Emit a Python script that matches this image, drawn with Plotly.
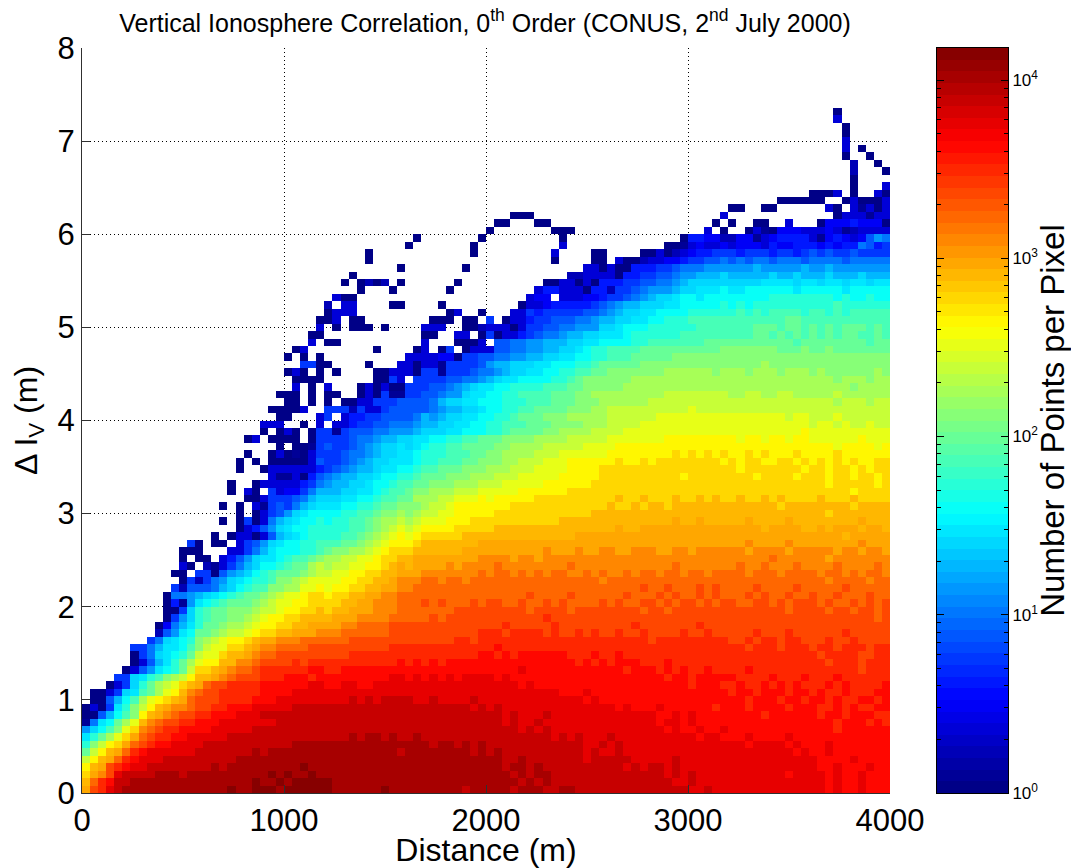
import numpy as np
import plotly.graph_objects as go

# Histogram: one string per row (bottom row first), one character per cell.
# '.' = empty cell, otherwise digit/letter = log10(count) in steps of 0.125.
N_COLS = 100
N_ROWS = 100
DX = 40
DY = 0.08
LOG_STEP = 0.125
LOG_MAX = 4.18
ALPHABET = "0123456789abcdefghijklmnopqrstuvwxyz"

LOG_COUNT_ROWS = [
"orsuvwwwww wwwwwwwwxw wxxxwxxxxx xwwwwwwxww wwwwwwwvww wwwvwwwvvw wvvvvvvvvv vvvvvuuvuu uuuuuuuuuu uututtuttt",
"nqstvvwwww wwwwwwwwww wxwwxwxxxx xwwwwwwwww wwwwwwwwww wwwwvwvwvv vvvvvvvvvv vvvuuvuuuu uuuuuuuuuu uututtuttt",
"mopruvvvvw wwvwwwwwww wwwxwxwwxw wwwwwwwwww wwwwwwwwww wwwvwvwwvv vvvvvvvvvv vvuvuvuuuu uuuuuuutuu uututtuttt",
"lnorstuuvv vvvvvvwvww wwwwwwwxww wwwwwwwwww wwwwwwwwww wwvwwvwvvv vvvvvvvuvu vvuvuuuuuu uuuuuuuuuu uttutttutt",
"jlnoqstuuu vvvvvvvvvw wwwwwwwwww wwwwwwwwww wwwwwwwwww wwvvwvvvvv vvuvvvvvuu uuuvuuuuuu uuuuuuuuuu uttttutttt",
"gjlnoqstuu uuuuvvvvvv vwvwwwwwww wwwwwwwwwv wwwwwwwwvw vwvvvvvvvv vvuvuuvuuu uuuuuuuuuu uuuuuuuutu ttuttttttt",
"ehjlmoqrst tuuuuvvvvv vvvvvvwwww wwwwwwwwww wwwvwwvwvw vvvvvvvvvv vvuuvuvuuu uuuuuuuuuu uutuuuutut ttuttttttt",
"cegikmoqrs sttuuuuuvv vvvvvvvvvv vvvwvwwvwv vwvvvvvvvv vvvvvvvvuv uvuuuvuuuu uuuuuutuut ttuttttutt tttttttttt",
"9bdfhkmpqr ssttttuuuu uvvvvvvvvv vvvvvvvvvv vvvvvvvvvv vvvvuvuvuu uuuuuuuuuu uututtuttu tttttttttt tttstttttt",
"18cdgiknpq rrsstttuuu uuuuvvvvvv vvvvvvvvvv vvvvvvvvvv vvuvuuvuuu uuuuuuuuuu utuututttt tttttttttt tttstttsts",
"007adfhlno pqrrsstttu uuvvvvvvvv vvvvvvvvvv vvvvvvvvvv vvuvuuuvuu uuuuuuuuuu uttututttt ttttsttttt tsttstttss",
"0306cehjln oppqrrsstt tuuuuuvvvv vvvvvvvvvv vvvvvvvvuv uvuuuuuuuu uuuuuututt tuttttttst ttsttttstt tsststsstt",
".007adfikl mnoqrrrsss stttuuuuuu uuuvuvuvvv vuuvuuuuvu uuuuuuuuuu uututttttt tttttttttt ttstttstts ttstssttst",
".0036bcfgi klnpqrrsss ssttttuuuu uuuuuuuuuu uuuuuuuuuu uuuuuuuuut ttuttttttt tttttttttt sttstttstt stsstssstt",
"...036begi jkmnoqrrss ssttttttuu ttuuttuuuu uuuuuuuuuu uuuututttt tttttttttt tttttsttts stsstststs sststsssst",
"....66bcef hijlnnopqr rrssstttst ttttttttuu tutututuuu ututtttttt tttttttttt ttsttstttt tsssstssst ssstssssss",
".....0379c degjmmnopq qrsssssstt sstttttttt tttttttttt ttttuttttt tttttttstt tststsstss sstsssssss ssssssrsss",
"......037a cegikllnnp pqrrrrsrss ssssssssst stststtttt tttttttttt tstststtts sstsssssss ssssssssss ssrsssrsss",
"......068b cdegjkkmnn opqqrrrrrr rrrsssssss ssssssssst tststttttt ssstsstsss ssssssssss ssssssssss srssssrrss",
"......668a ccdfhjkkmm noppqqqqrr rrrrrrrrss ssssssssss stssssssss ssssssssss ssssssssss ssrsssrsss rssrsssrss",
"........68 bcdehijkll mnoopppqqq qqqrrrrrrr rrrrrrssrs ssssssssss ssssssssss rsssssssss rrsrssrssr rrsrrsrrrr",
".........2 79cdgghijj klmmnnooop ppqqqqqqrr rrrrrrrrrs ssrssssrsr rsrsrrsrrs rrrrsrrsrr rrrsrrrsrr rrrrsrrrrr",
".........0 48acegghii jkllmmnnoo ooppqqqqrr rrrrrrrrrr rrsrrrrrsr rrrrrrrrsr rrrrrrsrrr rrrrrrrrrr rrrrrrrrrr",
"069befgghh ijkllmmnnn noooppppqq qqqrqrrrrr rrrrrrrsrr rrrrrrrrrr rrrrrrrrrr rrrrrrrrrr rrrrrrrrqr",
"006befgghh hijjkllmmn mnnooopppq qqqqqqrrrr rrrrrqrrrr qrrrrrrrrq rrqrrrrrrr rrrrrrrqrr rrqrrqrrqr",
"0519cdefgg ghijkkllmm mmnnoopppq qqrqrqqqrq rrqqrqqrqr qqqqrqrqqr rqrqrrqrqr rqqrrqrqrr rqrqqrqrqr",
"0889abcdef gghijkklmm lmmnnooppq qqqqqqqqqq qqqqqrqqqq rqqqqqqrqq qrqrqqrqrq qqrqrqqrqq rqqrqqqrqq",
".627778abd effhhiikkl kllmmnnoop pqqqqqqqqq qqqqqqqqqq qqqqqqqqqr qqrqqqrqrq qqqrqqqqrq qqqqrqqqqq",
"..062689bc deefhhijkk kkllmmnnop ppqqpqqpqq qqqqqqqqqq qqqqpqqqqq qqqqqqqqqq qqqqqqqqqq qqpqqqqpqq",
".00.66079a bdefggghij jkkllmmnno oopppppppq pqqpqpqpqq ppqpqppqpq qpqqpqqpqq qqpqqqpqqq qpqqpqpqqp",
"..30.21368 abddefggij ijjkkllmno noooopoppp pqpppppppp qppppppppp pppqpppppp pqppqpppqp pppqppppqp",
"..0.00.357 9bccdeffgh iijjkklmmn noooooooop pppoppoppp pppppppppp pppppppppp pppppqpppp ppoppppppp",
"..000...33 68acdddeef ghhiijklmm mnnnnnnooo ooooooopoo opooppoopp pooppopppp ppoppppopp pppoppoppo",
"...60.00.3 679bcddeef ffgghijkll lmnnnnnnno oooooooooo oooooooooo oooooooooo oopoooopoo oooooopooo",
"......0.03 3037abcdee eeffghijkl klmmmmmnnn nnnnnnnnnn nooooooooo oooooooooo oooooooooo oooonooooo",
".........0 3579bcddee eeeffghijk jkllllmmmm mnnnnnnnnn nnnnnnonno oooooooooo oooonoooon nonooonoon",
".......0.0 6038abcdde deeffghiij ijkkklllmm mmmmmmmmmn nnnnnnnnnn nnnonnonnn nnonnnnonn nnnnnnonnn",
".........0 .03679bcdd ddeeffghhi hijjkkllll lmmmmmmmmm mmmnnnnnnn nnnnnnnnnn nnnnnnnnnn nnmnnnnnnn",
".......0.0 .316768abc ccddeefggh hhijjkllll lllmmmmmmm mmmmmnmmnm nnmnnnnnnn nnnnnnmnnn nnnnnmnnnn",
"00366678ab bbccddeffg giiijjkkkl klllllmmmm mmmmmmnmmn mmmnmmnmnm mnmmnmnmmm mnmmmnmmmm",
"........0. 30.634468a aabbccdeff ghhiiijjjk kkkkllllll mmmmmmmmmm mmmmmmmmmm mmmmmmmmmm mmmmmlmmmm",
"........0. .033333568 9aabbcddef fgghhhiiij jjkkkkklll lllmmmmmmm mmmmmmmmmm mmmmmmmmmm mmlmmmmmlm",
"...3113057 89aabbcdde efggghhhii ijjjkkkkkl llllmmmmmm mmmmlmmmmm mmmlmmmmlm mmlmmlmmlm",
".........0 ..03333335 6789aabccd deffggghhh iiijjjkkkk llllmmmmmm mmmmmmmmmm mlmmmmmmml mmlmmlmlmm",
".........0 .0.0000037 66789abbcc cdeefffggh hhiijjjkkk llllllmllm lmmmmmmmml mlmmllmmlm lmlmlmllmm",
"0..0301036 667889abbc cdeeefffgg hhiiiijjjk kkkkklllll lllmlmlmlm llmlmlllml lllmllllll",
"....0.0016 766789abbc bcdeeffggg ghhiiiijjj jjkkkkllll llllllllll llllllllll lllkllllkl",
"03.0000.06 6667889aab bccddeeffg gghhhhiiii jjjjjkkkkk kkllllllll lkllkllkll kkkkkklkkk",
"..0.030.06 6167778899 9abbbccddd eefgggghhi iiijjjjkkk kkkkkkkkkk kkkkkkkkkl kkkkkkkkkk",
"..333..0.3 .335667788 89aabbccdd eefffggghh hhiiijjjjk kkkkkkkkkk kkkkkkkkkk jkkjkjjkjj",
"....00...3 6.35566777 78a9abbccd deefggghhh iiiiijjjjj jkkkkkkkkk kkkkkkkjkk jjjkjjjjjj",
"...00003.. 6662633677 77789aabbc ddeeffgggg hhhiijjjjj jjjjjkjjjj jjjjjjjjjj jjjjjjjjjj",
".....00.0. 0.00336667 7778abbccd ddeeefffgg ghhhiiiiii jjjjjjjjjj jjjjjjjjjj jjjijjjijj",
"....000.0. 00..030611 6677899bcc ddeeffffgg ghhiiiiiii iijjjjjjjj iijjiijjii iiijiiiiii",
"......3.0. 3...030300 6667789abc cddeeeefff gghhhhhiii iiiiiiiiii iiiiiiiiii iiiiihiiii",
"......0000 ......0063 .666677889 abccddddee fghhhhhhii iiiiiiiiii iiiiiiiiii iiihiiihii",
".....030.0 .0....0033 3066166678 89abbccdde effgghhhhh hhiiiiiihi iihiiihiii hihhhhhhih",
".......660 0....0...3 3033166667 9aabbbccdd deefgggggh hhhhhhhhhh hhhhihhhhh hhhhhhhhhh",
".....0.0.0 .......... 3333440667 78899aabbc cddeefffgg ggghhhhhhh hhhhhhhhhh hhhhhhhhhh",
"......03.. ......0... .03.06.033 3778899aab bcdeeffffg gggggggggh hhhhhhgggh gghggggggg",
"........3. 00........ ..3...0003 .778899aaa bbccddddee fffffffggg ggggggggfg gggggggfgg",
"........00 .......... ..00..33.0 6033567889 aabbcccdee eeeeffffff fffggfgfgf gfgfggffgf",
".........3 .0.000.0.. ..333..002 3330366778 8999bbcddd eeeeeeffff fffgggfggf gfgfgggfgf",
".........0 03.00..... ...000.00. 6.03356677 7889aabbcc ddeeefffff fffffffggf ffffffffff",
"0333...... .....03..0 ...3365666 667789abbc cddddeeeee efefeffffe ffefefffff",
"2.33....00 ....0..... ....033455 5556789aab bbccddddde dedeeeeeee eeefeeeeee",
".300...... .......... .....344.3 3344566789 abbcddcddd dddddeeeee eeededdedd",
"....0...0. .....0.... ......3553 3305526678 999abbcccd ccddddddcd ddddcddddd",
"..0.0202.0 ......0... .......003 3030555667 7889abbbbb bbbbccccbc cbccbccbcc",
"...0...... .......... .......... 2233330556 677899aaab aaaaabaaba aabaaabaaa",
".........0 .......0.. .......... ..33030055 5667888999 999a99999a 99a9999999",
".....0.... .......... ........0. ...00.3002 3344566778 7878878887 8888788888",
".....0.... ........0. ........3. ...00....0 0302345566 6566656656 7676676666",
"0.......0. .........3 .......... ..00134334 3444354455 5454558756",
".0.......0 .........0 .......... ....055442 2441345555 3145434798",
"0.......00 0......... .......3.0 ..03104443 3343123333",
".00...00.. .......... ........0. 0..00..3.. .044454440",
"...000.... .......... .........3 .......... ...0333133",
"00..00.... ..30.31303",
"......0000 00..030003",
"0003.0..30",
".....0...3",
".....0....",
".....2...0",
".....2..0.",
"....0..0..",
"....3.0...",
"....3.....",
"....0.....",
"....0.....",
"...3......",
"...0......",
]

X_TICKS = [0, 1000, 2000, 3000, 4000]
Y_TICKS = [0, 1, 2, 3, 4, 5, 6, 7, 8]
CBAR_DECADES = [0, 1, 2, 3, 4]
CBAR_LABELS = ["10<sup>0</sup>", "10<sup>1</sup>", "10<sup>2</sup>", "10<sup>3</sup>", "10<sup>4</sup>"]
CBAR_MINOR = [d + np.log10(m) for d in range(5) for m in range(2, 10) if d + np.log10(m) < LOG_MAX]
N_COLOURS = 64


def decode(row):
    row = row.replace(" ", "").rjust(N_COLS, ".")[-N_COLS:]
    return [None if ch == "." else ALPHABET.index(ch) * LOG_STEP for ch in row]


z = [decode(r) for r in LOG_COUNT_ROWS]
z += [[None] * N_COLS for _ in range(N_ROWS - len(z))]


def jet(f):
    r = np.clip(min(4 * f - 1.5, -4 * f + 4.5), 0, 1)
    g = np.clip(min(4 * f - 0.5, -4 * f + 3.5), 0, 1)
    b = np.clip(min(4 * f + 0.5, -4 * f + 2.5), 0, 1)
    return f"rgb({int(r * 255)},{int(g * 255)},{int(b * 255)})"


scale = []
for i in range(N_COLOURS):
    col = jet((i + 0.5) / N_COLOURS)
    scale.append([i / N_COLOURS, col])
    scale.append([(i + 1) / N_COLOURS, col])

W, H = 1071, 868
FONT = "Liberation Sans"

fig = go.Figure()
fig.add_trace(go.Heatmap(
    z=z, x0=DX / 2, dx=DX, y0=DY / 2, dy=DY,
    zmin=0, zmax=LOG_MAX, colorscale=scale, showscale=False,
    hoverongaps=False, xaxis="x", yaxis="y",
))
bar_levels = np.linspace(0, LOG_MAX, N_COLOURS + 1)
bar_mid = (bar_levels[:-1] + bar_levels[1:]) / 2
fig.add_trace(go.Heatmap(
    z=[[v] for v in bar_mid], x=[0], y=bar_mid,
    zmin=0, zmax=LOG_MAX, colorscale=scale, showscale=False,
    xaxis="x2", yaxis="y2",
))

axis_common = dict(
    automargin=False,
    showline=True, linecolor="#303030", linewidth=1,
    ticks="inside", ticklen=8, tickcolor="#303030",
    tickfont=dict(family=FONT, size=31, color="black"),
    showgrid=True, gridcolor="black", gridwidth=1, griddash="1px,3px",
    zeroline=False,
)
fig.update_layout(
    width=W, height=H, autosize=False,
    margin=dict(l=0, r=0, t=0, b=0),
    paper_bgcolor="white", plot_bgcolor="white",
    font=dict(family=FONT, color="black"),
    title=dict(
        text="Vertical Ionosphere Correlation, 0<sup>th</sup> Order (CONUS, 2<sup>nd</sup> July 2000)",
        x=485 / W, xanchor="center", y=1 - 23 / H, yanchor="middle",
        font=dict(family=FONT, size=25),
    ),
    xaxis=dict(
        axis_common, domain=[82 / W, 890 / W], range=[0, 4000], tickvals=X_TICKS,
        tickangle=0, anchor="y", title=dict(text="Distance (m)", font=dict(size=32), standoff=2),
    ),
    yaxis=dict(
        axis_common, domain=[(H - 793) / H, (H - 48) / H], range=[0, 8], tickvals=Y_TICKS,
        anchor="x", title=dict(text="Δ I<sub>V</sub> (m)", font=dict(size=32), standoff=10),
    ),
    xaxis2=dict(
        automargin=False,
        domain=[937 / W, 1008 / W], anchor="y2", showticklabels=False, ticks="",
        showgrid=False, zeroline=False, showline=True, linecolor="black", mirror=True,
    ),
    yaxis2=dict(
        automargin=False,
        domain=[(H - 793) / H, (H - 48) / H], range=[0, LOG_MAX], anchor="x2", side="right",
        tickvals=CBAR_DECADES, ticktext=CBAR_LABELS, ticks="inside", ticklen=7, tickcolor="black",
        tickfont=dict(family=FONT, size=17, color="black"),
        minor=dict(tickvals=CBAR_MINOR, ticks="inside", ticklen=4, tickcolor="black"),
        showgrid=False, zeroline=False, showline=True, linecolor="black", mirror="ticks",
        title=dict(text="Number of Points per Pixel", font=dict(size=33), standoff=8),
    ),
)

fig.write_html(
    "out.html",
    config={"displayModeBar": False},
    post_script="document.body.style.margin='0';window.dispatchEvent(new Event('resize'));",
)
